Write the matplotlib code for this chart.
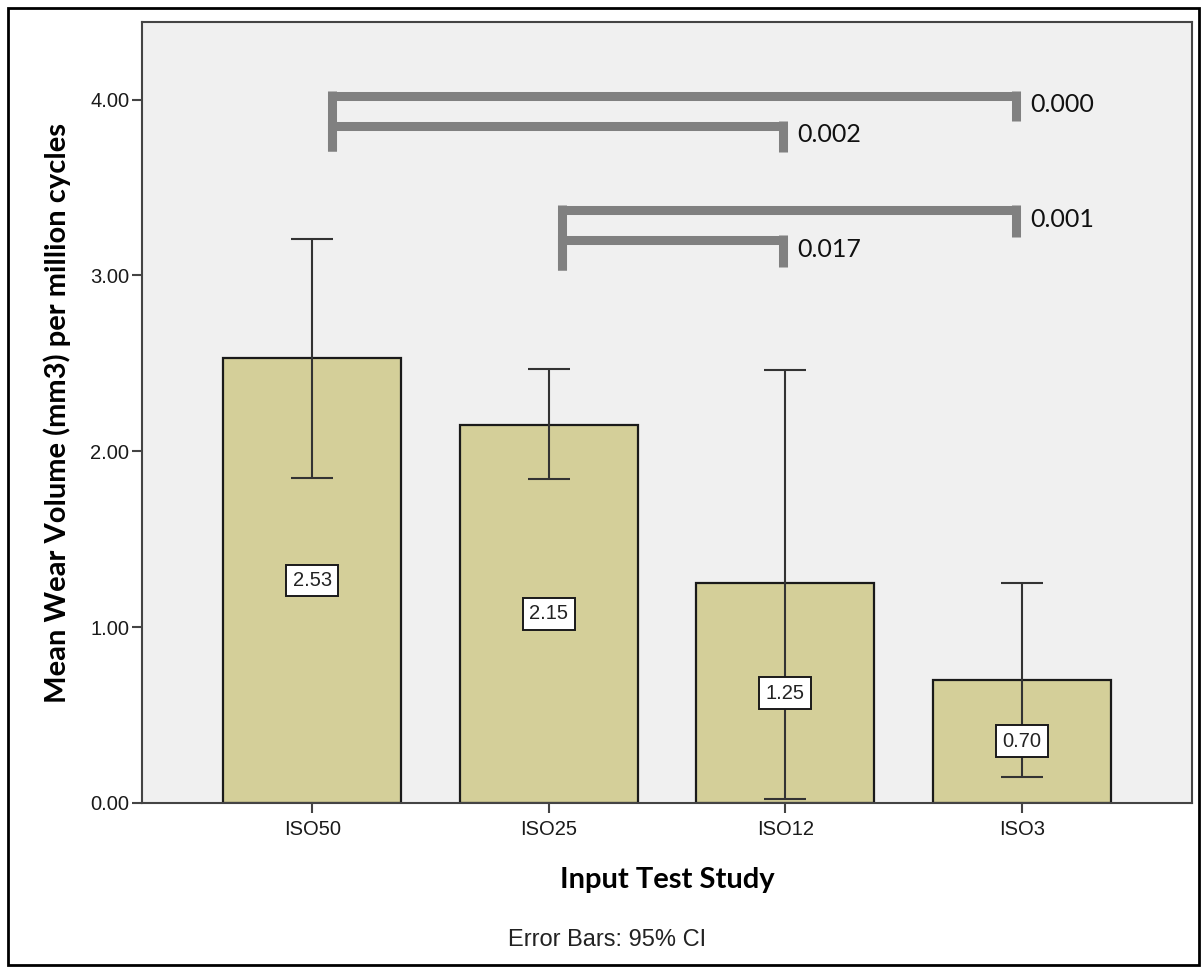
import matplotlib.pyplot as plt
from matplotlib.patches import Rectangle

# Mean wear volume per study with 95% CI
studies = ["ISO50", "ISO25", "ISO12", "ISO3"]
means = [2.53, 2.15, 1.25, 0.70]
ci_low = [1.85, 1.84, 0.02, 0.15]
ci_high = [3.21, 2.47, 2.46, 1.25]

# pairwise comparisons: (from, to) and their p-values
pairs = [(0, 3), (0, 2), (1, 3), (1, 2)]
p_values = ["0.000", "0.002", "0.001", "0.017"]

BAR = "#d4cf99"
BRACKET = "#808080"

fig = plt.figure(figsize=(12.03, 9.68), dpi=100)
ax = fig.add_axes([0.118, 0.1705, 0.873, 0.8065])
ax.set_facecolor("#f0f0f0")

x = list(range(len(studies)))
ax.bar(x, means, width=0.753, color=BAR, edgecolor="#1a1a1a", linewidth=1.6, zorder=2)
yerr = [[m - lo for m, lo in zip(means, ci_low)], [hi - m for m, hi in zip(means, ci_high)]]
ax.errorbar(x, means, yerr=yerr, fmt="none", ecolor="#333333", elinewidth=1.5,
            capsize=15, capthick=1.5, zorder=3)

# value labels at half bar height
for xi, m in zip(x, means):
    ax.text(xi, m / 2, f"{m:.2f}", ha="center", va="center", fontsize=14.5,
            family="Liberation Sans", color="#222222", zorder=4,
            bbox=dict(boxstyle="square,pad=0.32", fc="white", ec="#1a1a1a", lw=1.4))

# significance brackets: x offsets from the bar centres, bar height, end heights
bracket_geom = [
    (0.085, -0.025, 4.02, 3.71, 3.88),
    (0.085, -0.01, 3.85, 3.71, 3.70),
    (0.055, -0.025, 3.37, 3.03, 3.22),
    (0.055, -0.01, 3.20, 3.03, 3.05),
]
for (i, j), p, (dl, dr, yb, yl, yr) in zip(pairs, p_values, bracket_geom):
    left, right = i + dl, j + dr
    kw = dict(color=BRACKET, lw=6.5, solid_capstyle="butt", zorder=1)
    ax.plot([left, left], [yl, yb + 0.03], **kw)
    ax.plot([left, right], [yb, yb], **kw)
    ax.plot([right, right], [yb + 0.03, yr], **kw)
    ax.text(right + 0.06, yb - 0.05, p, ha="left", va="center", fontsize=18,
            family="Lato", color="#111111")

ax.set_xlim(-0.72, 3.72)
ax.set_ylim(0, 4.44)
ax.set_yticks([0, 1, 2, 3, 4])
ax.set_yticklabels([f"{v:.2f}" for v in [0, 1, 2, 3, 4]])
ax.set_xticks(x)
ax.set_xticklabels(studies)
for lab in ax.get_xticklabels() + ax.get_yticklabels():
    lab.set_family("Liberation Sans")
    lab.set_fontsize(14.5)
    lab.set_color("#1a1a1a")
ax.tick_params(direction="out", length=7, width=1.5, color="#444444", pad=2)
ax.tick_params(axis="x", pad=5)
for s in ax.spines.values():
    s.set_color("#444444")
    s.set_linewidth(1.5)

ax.set_xlabel("Input Test Study", family="Lato", fontweight="bold", fontsize=21, va="center")
ax.xaxis.set_label_coords(0.5, -0.0986)
ax.set_ylabel("Mean Wear Volume (mm3) per million cycles", family="Lato",
              fontweight="bold", fontsize=21, va="center")
ax.yaxis.set_label_coords(-0.081, 0.5)

fig.text(0.505, 0.029, "Error Bars: 95% CI", ha="center", va="center",
         family="Liberation Sans", fontsize=17, color="#222222")

# outer frame
fig.patches.append(Rectangle((0.007, 0.003), 0.99, 0.989, transform=fig.transFigure,
                             fill=False, ec="black", lw=2))

fig.savefig("out.png", dpi=100)
